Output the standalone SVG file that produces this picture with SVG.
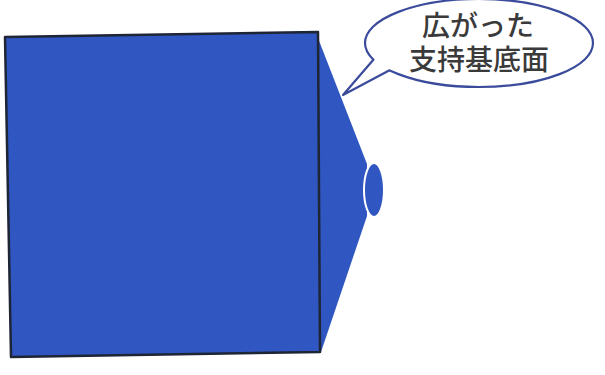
<svg xmlns="http://www.w3.org/2000/svg" width="605" height="375" viewBox="0 0 605 375">
<style>
.blue{fill:#2f56c1}
.line{fill:none;stroke:#3b4b9c;stroke-width:2.2;stroke-linejoin:round}
.txt{font-family:"Liberation Sans","Noto Sans CJK JP",sans-serif;font-size:28px;font-weight:500;fill:#3a3a3a;text-anchor:middle}
</style>
<rect width="605" height="375" fill="#ffffff"/>
<g id="base">
<polygon class="blue" points="316,33 367,164 367,216 321,352"/>
<ellipse class="blue" cx="374" cy="190" rx="10" ry="27" stroke="#ffffff" stroke-width="2"/>
</g>
<g id="square">
<polygon class="blue" points="5,37 318,32 320,352 11,357" stroke="#1e2535" stroke-width="2.5" stroke-linejoin="round"/>
</g>
<g id="bubble">
<ellipse cx="479" cy="43" rx="114" ry="44" class="line" style="fill:#ffffff"/>
<polygon points="374,59 343,95 390,70 391,60 380,54" fill="#ffffff"/>
<polyline class="line" points="374,59 343,95 390,70"/>
<text class="txt" x="478" y="36">広がった</text>
<text class="txt" x="479" y="70">支持基底面</text>
</g>
</svg>
